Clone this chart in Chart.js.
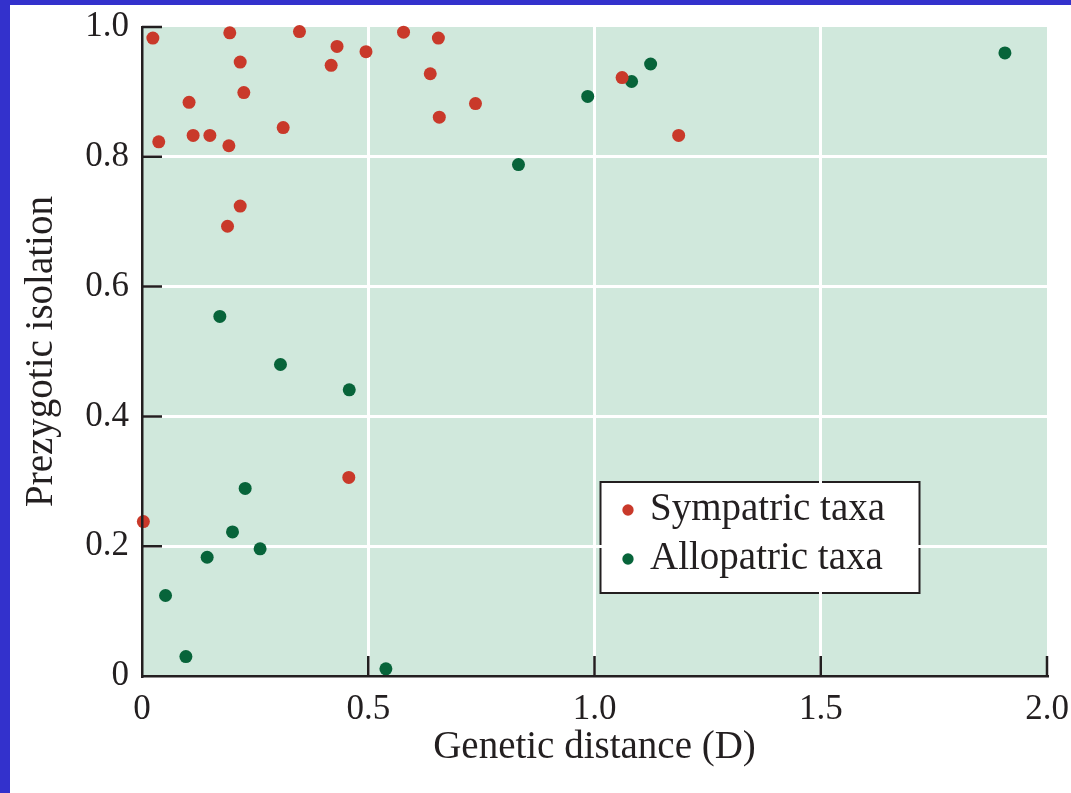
<!DOCTYPE html>
<html>
<head>
<meta charset="utf-8">
<script src="https://cdn.jsdelivr.net/npm/chart.js@4.4.1/dist/chart.umd.min.js"></script>
<style>
  html, body { margin: 0; padding: 0; background: #fff; }
  #page { position: relative; width: 1071px; height: 793px; overflow: hidden; background: #fff; }
  #blueLeft { position: absolute; left: 0; top: 0; width: 10px; height: 793px; background: #3331cc; }
  #blueTop { position: absolute; left: 0; top: 0; width: 1071px; height: 5px; background: #3331cc; }
  #wrap { position: absolute; left: 10px; top: 5px; width: 1061px; height: 788px; }
</style>
</head>
<body>
<div id="page">
  <div id="blueLeft"></div>
  <div id="blueTop"></div>
  <div id="wrap"><canvas id="scatter_chart" width="1061" height="788"></canvas></div>
</div>
<script>
  // genetic distance (D) and prezygotic isolation
  const sympatricD = [0.024, 0.037, 0.104, 0.113, 0.150, 0.192, 0.194, 0.217, 0.225, 0.217,
                      0.189, 0.312, 0.348, 0.431, 0.418, 0.495, 0.578, 0.655, 0.637, 0.737,
                      0.657, 1.061, 1.186, 0.003, 0.457];
  const sympatricIso = [0.983, 0.823, 0.884, 0.833, 0.833, 0.817, 0.991, 0.946, 0.899, 0.724,
                        0.693, 0.845, 0.993, 0.970, 0.941, 0.962, 0.992, 0.983, 0.928, 0.882,
                        0.861, 0.922, 0.833, 0.238, 0.306];
  const allopatricD = [0.985, 1.082, 1.124, 0.832, 1.907, 0.172, 0.306, 0.458, 0.228, 0.200,
                       0.261, 0.144, 0.052, 0.097, 0.539];
  const allopatricIso = [0.893, 0.916, 0.943, 0.788, 0.960, 0.554, 0.480, 0.441, 0.289, 0.222,
                         0.196, 0.183, 0.124, 0.030, 0.011];

  const xTickLabels = ['0', '0.5', '1.0', '1.5', '2.0'];
  const yTickLabels = ['0', '0.2', '0.4', '0.6', '0.8', '1.0'];

  const toPoints = (xs, ys) => xs.map((x, i) => ({ x: x, y: ys[i] }));

  const red = '#c9392a';
  const green = '#07643a';
  const ink = '#231f20';
  const serif = "'Liberation Serif', 'DejaVu Serif', serif";

  // plot background, legend frame, inward ticks
  const decor = {
    id: 'decor',
    beforeDraw(chart) {
      const { ctx, chartArea: a } = chart;
      ctx.save();
      ctx.fillStyle = '#d0e8dc';
      ctx.fillRect(a.left, a.top, a.right - a.left, a.bottom - a.top);
      const lg = chart.legend;
      const fx = lg.left - 15, fy = lg.top + 1.5, fw = 319, fh = 111;
      ctx.fillStyle = '#fff';
      ctx.fillRect(fx, fy, fw, fh);
      ctx.strokeStyle = ink;
      ctx.lineWidth = 2;
      ctx.strokeRect(fx, fy, fw, fh);
      ctx.restore();
    },
    afterLayout(chart) {
      const lg = chart.legend;
      lg.left = 605.5; lg.top = 475.5;
      lg.right = lg.left + 320; lg.bottom = lg.top + 160;
      lg.width = 320; lg.height = 160;
    },
    afterDraw(chart) {
      const { ctx, chartArea: a, scales: { x, y } } = chart;
      ctx.save();
      ctx.strokeStyle = ink;
      ctx.lineWidth = 2.5;
      ctx.beginPath();
      x.ticks.forEach(t => {
        if (t.value === 0) return;
        const px = x.getPixelForValue(t.value);
        ctx.moveTo(px, a.bottom);
        ctx.lineTo(px, a.bottom - 20);
      });
      y.ticks.forEach(t => {
        if (t.value === 0) return;
        const py = y.getPixelForValue(t.value);
        ctx.moveTo(a.left, py);
        ctx.lineTo(a.left + 20, py);
      });
      ctx.stroke();
      ctx.restore();
    }
  };

  const gridColor = (max) => (c) => (c.tick.value === 0 || c.tick.value === max) ? 'rgba(0,0,0,0)' : '#ffffff';

  new Chart(document.getElementById('scatter_chart'), {
    type: 'scatter',
    data: {
      datasets: [{
        label: 'Sympatric taxa',
        data: toPoints(sympatricD, sympatricIso),
        backgroundColor: red,
        borderColor: red,
        borderWidth: 0,
        pointRadius: 6.5,
        pointStyle: 'circle',
        clip: false
      }, {
        label: 'Allopatric taxa',
        data: toPoints(allopatricD, allopatricIso),
        backgroundColor: green,
        borderColor: green,
        borderWidth: 0,
        pointRadius: 6.5,
        pointStyle: 'circle',
        clip: false
      }]
    },
    options: {
      responsive: false,
      animation: false,
      layout: { padding: { left: 0, top: 22, right: 24, bottom: 0 } },
      plugins: {
        tooltip: { enabled: false },
        legend: {
          position: 'chartArea',
          align: 'start',
          labels: {
            usePointStyle: true,
            boxWidth: 5,
            boxHeight: 8,
            padding: 10,
            color: ink,
            font: { family: serif, size: 39 }
          }
        }
      },
      scales: {
        x: {
          type: 'linear',
          min: 0, max: 2,
          afterFit: (s) => { s.height = 117; s.paddingLeft = 0; s.paddingRight = 0; },
          ticks: {
            stepSize: 0.5,
            padding: 13,
            color: ink,
            maxRotation: 0,
            font: { family: serif, size: 35 },
            callback: (v, i) => xTickLabels[i]
          },
          grid: { color: gridColor(2), lineWidth: 3, drawTicks: false },
          border: { display: true, color: ink, width: 2.5, z: 1 },
          title: {
            display: true,
            text: 'Genetic distance (D)',
            color: ink,
            font: { family: serif, size: 39 },
            padding: { top: 0, bottom: 22 }
          }
        },
        y: {
          type: 'linear',
          min: 0, max: 1,
          afterFit: (s) => { s.width = 132; s.paddingTop = 0; s.paddingBottom = 0; },
          ticks: {
            stepSize: 0.2,
            padding: 13,
            color: ink,
            font: { family: serif, size: 35 },
            callback: (v, i) => yTickLabels[i]
          },
          grid: { color: gridColor(1), lineWidth: 3, drawTicks: false },
          border: { display: true, color: ink, width: 2.5, z: 1 },
          title: {
            display: true,
            text: 'Prezygotic isolation',
            color: ink,
            font: { family: serif, size: 39 },
            padding: { top: 8, bottom: 0 }
          }
        }
      }
    },
    plugins: [decor]
  });
</script>
</body>
</html>
